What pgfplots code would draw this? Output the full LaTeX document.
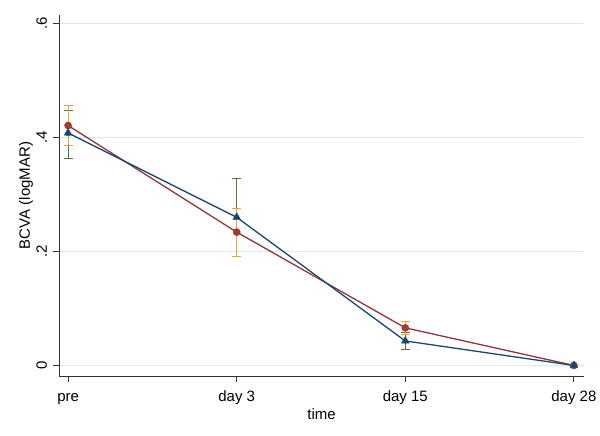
\documentclass[border=0pt]{standalone}
\usepackage{pgfplots}
\pgfplotsset{compat=1.18}
\usepackage{fontspec}
\setmainfont{Liberation Sans}
\definecolor{smaroon}{HTML}{90353B}
\definecolor{snavy}{HTML}{1A476F}
\definecolor{sgreen}{HTML}{55752F}
\definecolor{sorange}{HTML}{E8A33A}
\definecolor{sgrid}{HTML}{DCE8EC}
\definecolor{sredfill}{HTML}{A33A2E}
\begin{document}
\begin{tikzpicture}[x=1pt,y=1pt]
\path[use as bounding box] (-59pt,-60pt) rectangle (541pt,376pt);
\begin{axis}[
  at={(0pt,0pt)}, anchor=south west,
  scale only axis, width=525pt, height=361pt,
  xmin=-0.054, xmax=3.06,
  ymin=-0.0185, ymax=0.615,
  axis lines*=left,
  axis line style={black!80, line width=0.9pt},
  xtick={0,1,2,3},
  xticklabels={pre,day 3,day 15,day 28},
  ytick={0,0.2,0.4,0.6},
  yticklabels={0,.2,.4,.6},
  yticklabel style={rotate=90, anchor=base, yshift=6pt, font=\fontsize{15}{17}\selectfont},
  xticklabel style={anchor=base, yshift=-20pt, font=\fontsize{15}{17}\selectfont},
  tick style={black!80, line width=0.9pt},
  tick align=outside,
  major tick length=6pt,
  ymajorgrids,
  grid style={sgrid, line width=0.9pt},
  xlabel={time}, ylabel={BCVA (logMAR)},
  label style={font=\fontsize{15}{17}\selectfont},
  xlabel style={at={(axis description cs:0.5,0)}, anchor=base, yshift=-44pt},
  ylabel style={at={(axis description cs:0,0.5)}, rotate=0, anchor=base, yshift=29pt},
  clip=false,
]
% error bars, series 2 (navy / green)
\addplot[sgreen, only marks, mark=none, forget plot,
  error bars/.cd, y dir=both, y explicit,
  error mark=-, error mark options={sgreen, mark size=4.5pt, line width=1pt, rotate=90},
  error bar style={sgreen, line width=1pt}]
  table[x=x, y=y, y error plus=ep, y error minus=em] {
  x y ep em
  0 0.406 0.041 0.043
  1 0.260 0.068 0.068
  2 0.043 0.015 0.015
  3 0.000 0.000 0.000
};
% error bars, series 1 (maroon / orange)
\addplot[sorange, only marks, mark=none, forget plot,
  error bars/.cd, y dir=both, y explicit,
  error mark=-, error mark options={sorange, mark size=4.5pt, line width=1pt, rotate=90},
  error bar style={sorange, line width=1pt}]
  table[x=x, y=y, y error plus=ep, y error minus=em] {
  x y ep em
  0 0.421 0.035 0.035
  1 0.234 0.041 0.042
  2 0.066 0.011 0.011
  3 0.000 0.000 0.000
};
% series 1: maroon circles
\addplot[smaroon, line width=1.3pt, mark=*, mark size=3.6pt,
  mark options={fill=sredfill, draw=sredfill, line width=0.4pt}]
  coordinates {(0,0.421) (1,0.234) (2,0.066) (3,0.000)};
% series 2: navy triangles
\addplot[snavy, line width=1.3pt, mark=triangle*, mark size=4.5pt,
  mark options={fill=snavy, draw=snavy, line width=0.4pt}]
  coordinates {(0,0.408) (1,0.260) (2,0.043) (3,0.000)};
\end{axis}
\end{tikzpicture}
\end{document}
